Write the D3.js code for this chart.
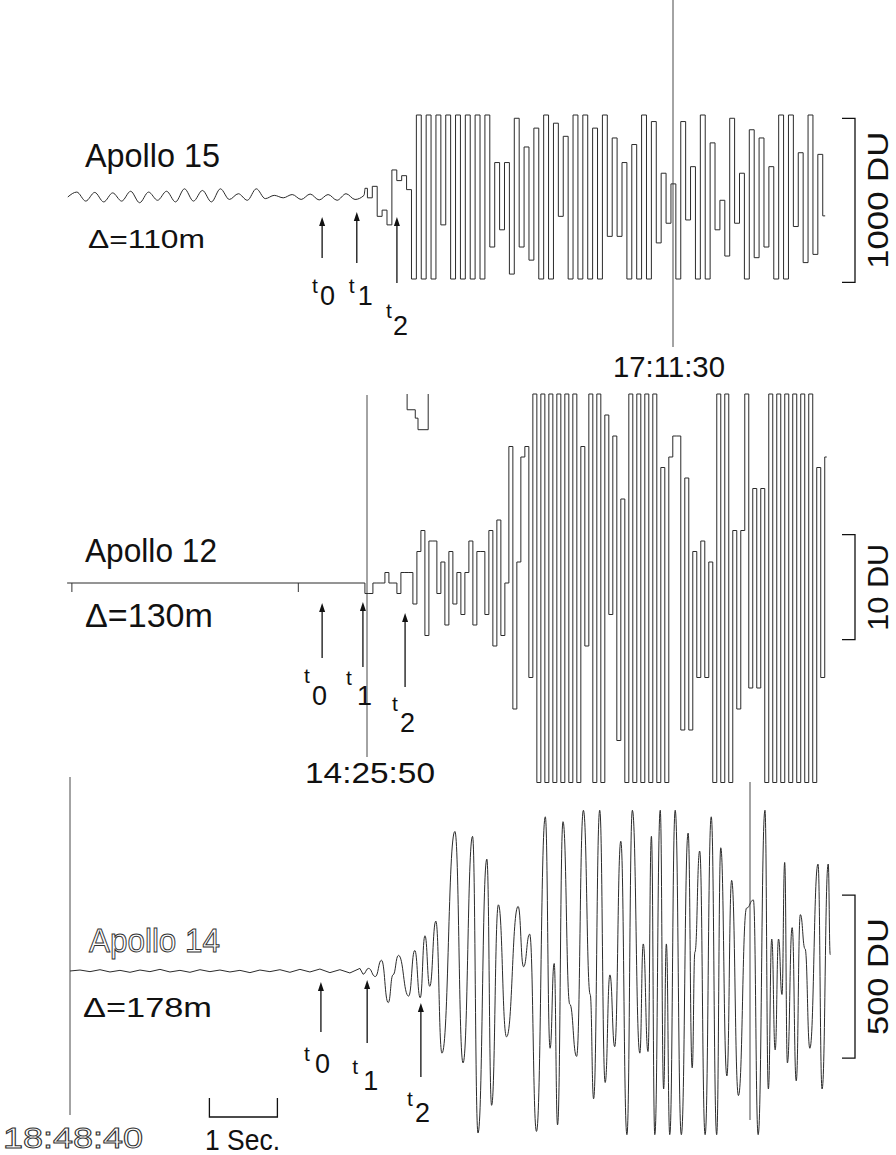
<!DOCTYPE html>
<html>
<head>
<meta charset="utf-8">
<script src="https://cdn.jsdelivr.net/npm/d3@7"></script>
<style>
  body { margin: 0; background: #fff; }
  svg text { font-family: "Liberation Sans", Arial, sans-serif; fill: #111; }
</style>
</head>
<body>
<div class="chart"></div>
<script>
// ---- data (amplitudes in DU, times in seconds from each station's time mark) ----

// Apollo 15, mark 17:11:30
const a15NoiseStart = -8.90, a15NoiseDt = 0.132;
const a15Noise = [0, 30, -25, 28, -30, 25, -25, 35, -35, 30, -20, 35, -30, 50, -25, 40, -30,
  50, -15, 20, -20, 50, -10, 10, -5, 15, -15, 18, -18, 15, -20, 20, -15, 10];
const a15SignalStart = -4.53, a15SignalDt = 0.072;
const a15Signal = [53, -5, 65, -118, -80, -170, 165, 100, 130, 45, -500, 500, -500, 500, -500, 500,
  -170, 500, -500, 500, -500, 500, -500, 500, -500, 500, -305, 210, -200, 210, -470, 480, -305, 305,
  -385, 420, -500, 500, -500, 450, -118, 370, -500, 500, -500, 500, -500, 420, -500, 500, -240, 360,
  -240, 210, -500, 320, -500, 500, -500, 460, -280, 145, -160, 80, -500, 460, -140, 185, -500, 500,
  -500, 330, -200, -20, -360, 480, -160, 145, -500, 410, -370, 360, -305, 185, -500, 500, -500, 500,
  -180, 270, -400, 500, -350, 260, -115];
const a15Onsets = [-5.16, -4.65, -4.06];
const a15Bar = [-520, 480];

// Apollo 12, mark 14:25:50
const a12Lead = -4.41;
const a12Ticks = [-4.34, -1.01];
const a12SignalStart = -0.06, a12SignalDt = 0.0588;
const a12Signal = [0, -1, -1, 0, 0, 0, 1, 0, 0, -1, 1, 1, 1, -2, 3, 5, -5, 4, 4, -1, 2, -4, 3, -2, 1,
  -3, 1, 4, -4, 3, 3, -3, 5, -6, 6, -5, 0, 13, -12, 2, 12, 13, -9,
  18, -19, 18, -19, 18, -19, 18, -19, 18, -19, 18, -19, 13, -6, 18, -19, 18, -19, 16, -3, 14, -15,
  8, -19, 18, -19, 18, -19, 18, -19, 18, -19, 11, -19, 12, 14, 14, -14, 10, -14, 3, -9, 4, -9, 2,
  -19, 18, -19, 18, -19, 5, -12, 5, 18, -10, 9, -10, 9, -19, 18, -19, 18, -19, 18, -19, 18, -19,
  18, -19, 18, -19, 11, -9, 12];
const a12OverTime = [0.59, 0.59, 0.71, 0.71, 0.75, 0.75, 0.90, 0.90];
const a12OverValue = [18, 16.5, 16.5, 15.7, 15.7, 14.6, 14.6, 18];
const a12Onsets = [-0.66, -0.06, 0.56];
const a12Bar = [-5.4, 4.6];

// Apollo 14, marks 18:48:40 and 18:48:50
const a14NoiseStart = 0, a14NoiseDt = 0.147;
const a14Noise = [0, 3, -2, 4, -3, 2, -4, 3, -2, 5, -3, 2, -4, 4, -2, 3, -3, 2, -5, 3, -2, 4, -4, 5,
  -3, 6, -5, 4, -6, 8];
const a14Time = [4.31, 4.39, 4.49, 4.58, 4.68, 4.75, 4.83, 4.98, 5.07, 5.15, 5.22, 5.29, 5.38, 5.47,
  5.66, 5.78, 5.92, 6.00, 6.13, 6.20, 6.30, 6.42, 6.59, 6.67, 6.76, 6.86, 6.99, 7.06, 7.12, 7.17,
  7.25, 7.35, 7.45, 7.55, 7.65, 7.70, 7.79, 7.87, 7.94, 8.01, 8.10, 8.19, 8.27, 8.38, 8.43, 8.50,
  8.55, 8.60, 8.68, 8.73, 8.77, 8.82, 8.90, 8.99, 9.09, 9.15, 9.19, 9.26, 9.34, 9.43, 9.51, 9.57,
  9.66, 9.73, 9.83, 9.95, 10.05, 10.12, 10.22, 10.27, 10.32, 10.37, 10.42, 10.47, 10.51, 10.55,
  10.62, 10.68, 10.74, 10.81, 10.88, 11.00, 11.06, 11.15, 11.18];
const a14Value = [-10, 8, -17, 33, -97, -12, 48, -77, 63, -82, 108, -47, 153, -252, 428, -282, 413,
  -497, 343, -412, 203, -202, 198, 13, 113, -492, 473, -237, 23, -472, 458, -102, -262, 493, -72,
  -392, 493, -342, -12, -232, 398, -502, 493, -252, 83, -247, 413, -502, 493, -362, 83, -502, 493,
  -502, 423, -297, 58, 368, -502, 473, -502, 378, -322, 278, -382, 193, 218, -502, 493, -362, 98,
  -242, 98, -72, 333, -282, 133, -337, 173, 68, -237, 328, -362, 328, 50];
const a14Onsets = [3.69, 4.37, 5.16];
const a14Bar = [-267, 233];
const secBar = [2.05, 3.05];

// ---- layout ----
const W = 896, H = 1155, PX_PER_SEC = 68;

const svg = d3.select('.chart').append('svg')
  .attr('width', W)
  .attr('height', H);

function series(start, dt, values) {
  return values.map((v, i) => ({ t: start + i * dt, v: v }));
}

function makeScales(markX, base, pxPerDU) {
  const x = d3.scaleLinear().domain([0, 1]).range([markX, markX + PX_PER_SEC]);
  const y = d3.scaleLinear().domain([0, 1]).range([base, base - pxPerDU]);
  return { x, y };
}

function trace(g, s, pts, curve, clip) {
  const line = d3.line()
    .x(d => s.x(d.t))
    .y(d => s.y(Math.max(clip[0], Math.min(clip[1], d.v))))
    .curve(curve);
  g.append('path')
    .attr('d', line(pts))
    .attr('fill', 'none')
    .attr('stroke', '#2b2b2b')
    .attr('stroke-width', 1)
    .attr('stroke-linejoin', 'miter');
}

function markLine(g, s, t, y1, y2) {
  g.append('line')
    .attr('x1', s.x(t)).attr('x2', s.x(t))
    .attr('y1', y1).attr('y2', y2)
    .attr('stroke', '#333')
    .attr('stroke-width', 0.9);
}

function arrows(g, s, onsets, tips, tails) {
  onsets.forEach((t, i) => {
    const x = s.x(t);
    g.append('line')
      .attr('x1', x).attr('x2', x)
      .attr('y1', tips[i] + 6).attr('y2', tails[i])
      .attr('stroke', '#111').attr('stroke-width', 1.3);
    g.append('path')
      .attr('d', `M${x},${tips[i]}L${x - 3},${tips[i] + 9}L${x + 3},${tips[i] + 9}Z`)
      .attr('fill', '#111');
  });
}

function tLabels(g, s, onsets, specs) {
  onsets.forEach((t, i) => {
    const x = s.x(t), sp = specs[i];
    g.append('text').attr('x', x + sp[0]).attr('y', sp[1])
      .attr('font-size', 21).text('t');
    g.append('text').attr('x', x + sp[2]).attr('y', sp[3])
      .attr('font-size', 27).text(String(i));
  });
}

function label(g, txt, x, y, size, len, opts) {
  const el = g.append('text')
    .attr('x', x).attr('y', y)
    .attr('font-size', size)
    .attr('textLength', len)
    .attr('lengthAdjust', 'spacingAndGlyphs')
    .text(txt);
  if (opts && opts.hollow) {
    el.style('fill', '#fff').attr('stroke', '#333').attr('stroke-width', 1);
  }
  return el;
}

function bracket(g, s, range, size, txt, len) {
  const y0 = s.y(range[1]), y1 = s.y(range[0]);
  g.append('path')
    .attr('d', `M842,${y0}H855V${y1}H842`)
    .attr('fill', 'none').attr('stroke', '#111').attr('stroke-width', 1.3);
  g.append('text')
    .attr('transform', `translate(888,${(y0 + y1) / 2}) rotate(-90)`)
    .attr('text-anchor', 'middle')
    .attr('font-size', size)
    .attr('textLength', len)
    .attr('lengthAdjust', 'spacingAndGlyphs')
    .text(txt);
}

// ---- Apollo 15 ----
{
  const g = svg.append('g');
  const s = makeScales(673, 197, 0.164);
  const clip = [-500, 500];
  const noise = series(a15NoiseStart, a15NoiseDt, a15Noise);
  const sig = series(a15SignalStart, a15SignalDt, a15Signal);
  trace(g, s, noise.concat([sig[0]]), d3.curveMonotoneX, clip);
  trace(g, s, sig, d3.curveStep, clip);
  markLine(g, s, 0, 0, 347);
  label(g, '17:11:30', 613, 377, 30, 112);
  label(g, 'Apollo 15', 85, 167, 33, 135);
  label(g, '\u0394=110m', 88, 248, 25, 117);
  arrows(g, s, a15Onsets, [217, 212, 217], [258, 263, 283]);
  tLabels(g, s, a15Onsets, [[-10, 293, -2, 305], [-8, 293, 1, 305], [-11, 318, -4, 335]]);
  bracket(g, s, a15Bar, 30, '1000 DU', 137);
}

// ---- Apollo 12 ----
{
  const g = svg.append('g');
  const s = makeScales(367, 583, 10.5);
  const clip = [-19, 18];
  const sig = series(a12SignalStart, a12SignalDt, a12Signal);
  trace(g, s, [{ t: a12Lead, v: 0 }].concat(sig), d3.curveStep, clip);
  a12Ticks.forEach(t => {
    g.append('line')
      .attr('x1', s.x(t)).attr('x2', s.x(t))
      .attr('y1', s.y(0)).attr('y2', s.y(0) + 9)
      .attr('stroke', '#333').attr('stroke-width', 1);
  });
  const over = a12OverTime.map((t, i) => ({ t: t, v: a12OverValue[i] }));
  trace(g, s, over, d3.curveLinear, [-100, 100]);
  markLine(g, s, 0, 395, 757);
  label(g, '14:25:50', 305, 783, 30, 130);
  label(g, 'Apollo 12', 85, 562, 33, 132);
  label(g, '\u0394=130m', 85, 627, 33, 128);
  arrows(g, s, a12Onsets, [603, 602, 613], [658, 667, 687]);
  tLabels(g, s, a12Onsets, [[-18, 683, -10, 705], [-17, 685, -6, 705], [-13, 711, -5, 732]]);
  bracket(g, s, a12Bar, 30, '10 DU', 87);
}

// ---- Apollo 14 ----
{
  const g = svg.append('g');
  const s = makeScales(70, 971, 0.326);
  const clip = [-512, 509];
  const noise = series(a14NoiseStart, a14NoiseDt, a14Noise);
  const sig = a14Time.map((t, i) => ({ t: t, v: a14Value[i] }));
  trace(g, s, noise.concat([sig[0]]), d3.curveLinear, clip);
  trace(g, s, sig, d3.curveBumpX, clip);
  markLine(g, s, 0, 777, 1115);
  markLine(g, s, 10, 782, 1120);
  label(g, '18:48:40', 3, 1148, 30, 140, { hollow: true });
  label(g, 'Apollo 14', 89, 952, 33, 131, { hollow: true });
  label(g, '\u0394=178m', 83, 1017, 28, 129);
  arrows(g, s, a14Onsets, [982, 980, 1003], [1032, 1043, 1077]);
  tLabels(g, s, a14Onsets, [[-17, 1061, -6, 1073], [-15, 1074, -4, 1090], [-14, 1106, -6, 1122]]);
  bracket(g, s, a14Bar, 30, '500 DU', 117);
  // 1 second bar
  const b0 = s.x(secBar[0]), b1 = s.x(secBar[1]);
  g.append('path')
    .attr('d', `M${b0},1098V1117H${b1}V1098`)
    .attr('fill', 'none').attr('stroke', '#111').attr('stroke-width', 1.3);
  label(g, '1 Sec.', 205, 1150, 30, 75);
}
</script>
</body>
</html>
